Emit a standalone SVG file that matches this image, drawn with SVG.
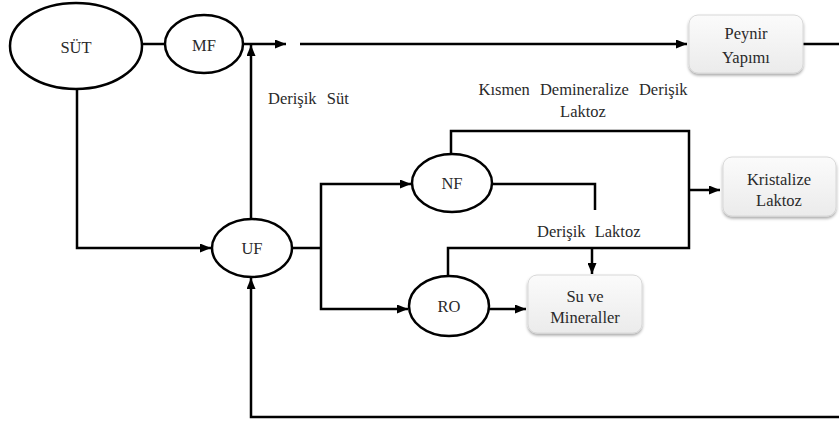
<svg xmlns="http://www.w3.org/2000/svg" width="839" height="421" viewBox="0 0 839 421">
<style>
.n{fill:#fff;stroke:#000;stroke-width:2.5}
.b{fill:url(#g);stroke:#d8d8d8;stroke-width:1;filter:url(#sh)}
.t{font-family:'Liberation Serif','Times New Roman',serif;font-size:16.5px;fill:#2a2a2a;text-anchor:middle}
.l{font-family:'Liberation Serif','Times New Roman',serif;font-size:16.5px;fill:#2a2a2a}
.c path{fill:none;stroke:#000;stroke-width:2.5}
.a{marker-end:url(#ar)}
</style>
<defs>
<linearGradient id="g" x1="0" y1="0" x2="0" y2="1"><stop offset="0" stop-color="#fbfbfb"/><stop offset="1" stop-color="#ebebeb"/></linearGradient>
<filter id="sh" x="-20%" y="-20%" width="140%" height="150%"><feDropShadow dx="0" dy="2" stdDeviation="1.6" flood-color="#000" flood-opacity="0.35"/></filter>
<marker id="ar" markerWidth="11" markerHeight="9" refX="11" refY="4.5" orient="auto" markerUnits="userSpaceOnUse"><path d="M0,0 L11,4.5 L0,9 Z" fill="#000"/></marker>
</defs>
<rect width="839" height="421" fill="#fff"/>
<g class="c" id="connectors">
<path d="M143,44 H165"/>
<path class="a" d="M243,44 H286"/>
<path class="a" d="M300,44 H687"/>
<path d="M803,44 H839"/>
<path class="a" d="M251,219 V45"/>
<path class="a" d="M77,89 V248 H211"/>
<path d="M291,248 H321"/>
<path class="a" d="M321,248 V184 H411"/>
<path class="a" d="M321,248 V309 H408"/>
<path d="M451,154 V131 H689 V248 H448 V276"/>
<path class="a" d="M689,190 H720"/>
<path d="M492,184 H595 V210"/>
<path class="a" d="M592,248 V274"/>
<path class="a" d="M489,309 H526"/>
<path class="a" d="M839,417 H251 V278"/>
</g>
<g id="sut"><ellipse class="n" cx="76" cy="46" rx="66" ry="43"/><text class="t" x="76" y="53">SÜT</text></g>
<g id="mf"><ellipse class="n" cx="204" cy="44" rx="39" ry="29"/><text class="t" x="204" y="51">MF</text></g>
<g id="uf"><ellipse class="n" cx="252" cy="248" rx="40" ry="29"/><text class="t" x="252" y="254">UF</text></g>
<g id="nf"><ellipse class="n" cx="452" cy="183" rx="40" ry="29"/><text class="t" x="452" y="189">NF</text></g>
<g id="ro"><ellipse class="n" cx="449" cy="306" rx="40" ry="30"/><text class="t" x="449" y="312">RO</text></g>
<g id="peynir"><rect class="b" x="689" y="15" width="114" height="58" rx="9"/><text class="t" x="746" y="39">Peynir</text><text class="t" x="746" y="63">Yapımı</text></g>
<g id="kristalize"><rect class="b" x="723" y="157" width="113" height="59" rx="9"/><text class="t" x="779" y="185">Kristalize</text><text class="t" x="779" y="206">Laktoz</text></g>
<g id="su"><rect class="b" x="528" y="275" width="114" height="58" rx="9"/><text class="t" x="585" y="302">Su ve</text><text class="t" x="585" y="323">Mineraller</text></g>
<g id="labels">
<text class="l" x="268" y="104" word-spacing="6">Derişik Süt</text>
<text class="t" x="583" y="95" word-spacing="6">Kısmen Demineralize Derişik</text>
<text class="t" x="583" y="117">Laktoz</text>
<text class="l" x="537" y="237" word-spacing="5">Derişik Laktoz</text>
</g>
</svg>
